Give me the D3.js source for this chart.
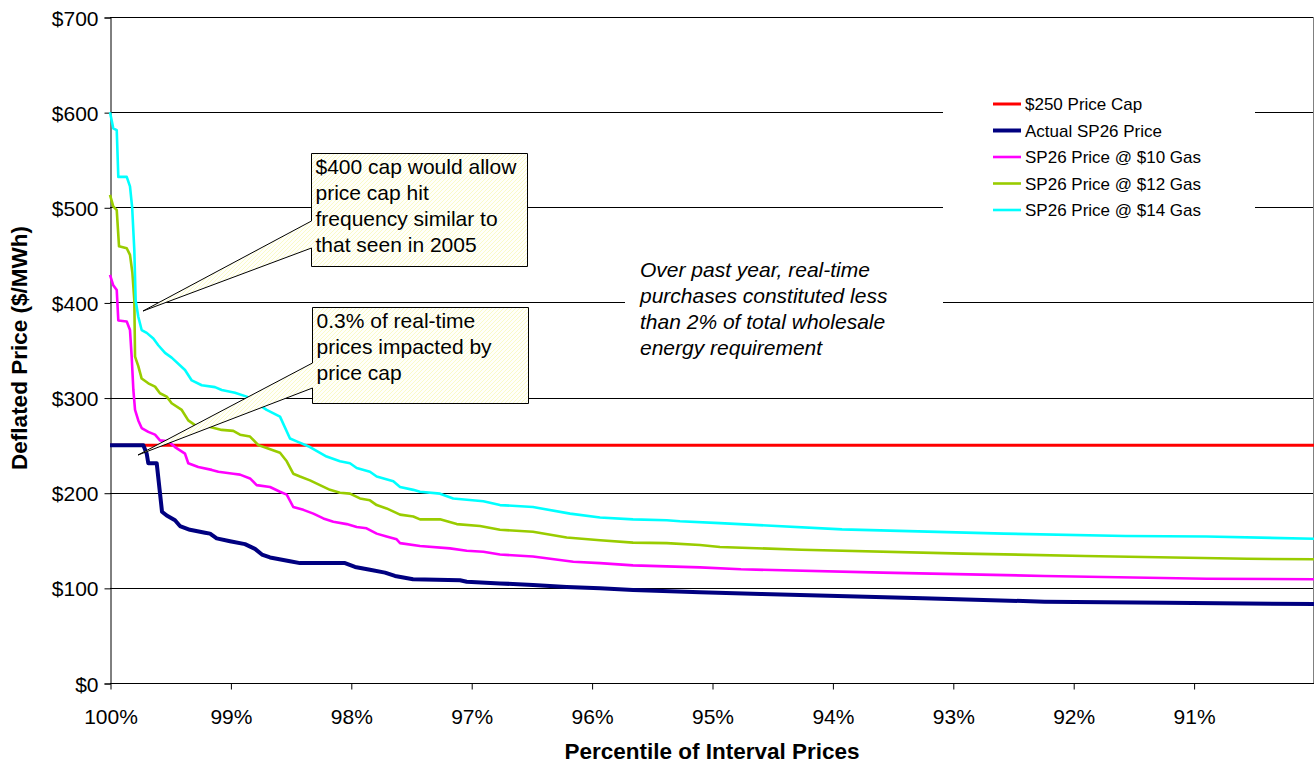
<!DOCTYPE html>
<html><head><meta charset="utf-8">
<script src="https://cdn.jsdelivr.net/npm/d3@7"></script>
<style>
html,body{margin:0;padding:0;background:#fff;}
svg{display:block;font-family:"Liberation Sans",Arial,sans-serif;}
</style></head><body>
<svg id="chart" width="1314" height="763"></svg>
<script>
// ---------- data ----------
const xTickValues = [100, 99, 98, 97, 96, 95, 94, 93, 92, 91];
const yTickValues = [0, 100, 200, 300, 400, 500, 600, 700];
const seriesNames = ["$250 Price Cap", "Actual SP26 Price", "SP26 Price @ $10 Gas", "SP26 Price @ $12 Gas", "SP26 Price @ $14 Gas"];
const seriesColors = ["#FF0000", "#000080", "#FF00FF", "#99CC00", "#00FFFF"];

// [percentile, price]
const priceCap = [[100, 250], [90, 250]];
const actualSP26 = [[100,250],[99.723,250],[99.695,241],[99.682,231],[99.612,231],[99.568,180],[99.529,176],[99.460,171],[99.419,165],[99.336,161],[99.211,158],[99.169,157],[99.114,152],[99.003,149],[98.879,146],[98.796,141],[98.738,135],[98.671,132],[98.505,128],[98.422,126],[98.048,126],[97.965,122],[97.841,119],[97.716,116],[97.633,112.5],[97.483,109],[97.093,108],[97.037,106.5],[96.761,104.7],[96.487,103],[96.207,101],[95.930,99.5],[95.656,97.7],[95.100,95.5],[94.593,93.5],[93.248,89],[92.238,85.5],[91.229,84.4],[90,83]];
const gas10 = [[100,429],[99.973,418],[99.944,413],[99.931,381],[99.861,380],[99.834,371],[99.820,343],[99.806,308],[99.792,287],[99.765,276],[99.737,268],[99.682,264],[99.626,261],[99.585,255],[99.516,254],[99.460,248],[99.377,241],[99.350,231],[99.267,227],[99.155,224],[99.100,222],[98.976,220],[98.920,219],[98.837,215],[98.782,208],[98.671,206],[98.588,201],[98.532,198],[98.478,185],[98.394,182],[98.311,178],[98.228,173],[98.145,169.5],[98.034,167],[97.951,164],[97.869,162.6],[97.785,157],[97.703,154],[97.619,151],[97.591,147],[97.425,144],[97.176,141.5],[97.037,139],[96.899,138],[96.761,135],[96.487,133],[96.152,127.5],[95.930,126],[95.656,123.6],[95.100,121.5],[94.759,119.5],[93.584,116],[92.238,112.5],[90.893,109.6],[90,109]];
const gas12 = [[100,513],[99.973,501],[99.944,497],[99.925,459],[99.861,457],[99.834,450],[99.814,431],[99.798,402],[99.792,343],[99.765,333],[99.737,320],[99.682,315],[99.626,311.5],[99.585,304.5],[99.529,301],[99.488,294],[99.404,287],[99.350,276],[99.294,271],[99.184,269.5],[99.072,266],[98.976,265],[98.920,261],[98.837,259],[98.768,250],[98.699,247],[98.588,242],[98.532,233],[98.478,220],[98.422,217],[98.339,213],[98.256,208],[98.173,203],[98.090,200],[98.007,199],[97.924,194],[97.841,192],[97.785,187],[97.703,183.5],[97.591,177],[97.481,175],[97.425,172],[97.259,172],[97.120,167],[96.927,165],[96.761,161],[96.487,159],[96.207,153],[95.930,150],[95.656,147.5],[95.376,147],[95.100,145],[94.934,143],[94.257,140],[92.911,136],[91.902,133.5],[90.557,130.6],[90,130]];
const gas14 = [[100,600],[99.973,583],[99.944,581],[99.931,532],[99.861,532],[99.834,522],[99.816,500],[99.798,455],[99.787,402],[99.765,385],[99.737,371],[99.695,368],[99.640,362],[99.599,355],[99.543,347],[99.488,342],[99.377,329],[99.321,318],[99.238,313],[99.128,311],[99.072,308],[98.962,305],[98.865,301],[98.699,287],[98.588,280],[98.505,257],[98.449,254],[98.339,248],[98.201,238],[98.090,233],[98.007,231],[97.951,226],[97.841,222],[97.785,217],[97.647,212],[97.591,206],[97.481,203],[97.425,201],[97.259,199],[97.149,194],[96.899,191],[96.761,187],[96.487,185],[96.179,178],[95.930,174],[95.656,172],[95.376,171],[95.266,170],[94.934,168],[93.920,161.5],[92.575,157],[91.566,154.5],[90.893,154],[90,151.6]];
const seriesData = [priceCap, actualSP26, gas10, gas12, gas14];
const seriesWidths = [3, 4, 2.6, 2.6, 2.6];

const callout1Lines = ["$400 cap would allow", "price cap hit", "frequency similar to", "that seen in 2005"];
const callout2Lines = ["0.3% of real-time", "prices impacted by", "price cap"];
const noteLines = ["Over past year, real-time", "purchases constituted less", "than 2% of total wholesale", "energy requirement"];

// ---------- chart ----------
const svg = d3.select("#chart");
const x = d3.scaleLinear().domain([100, 90]).range([110, 1314]);
const y = d3.scaleLinear().domain([0, 700]).range([683, 17]);

// pattern for callouts
const defs = svg.append("defs");
const pat = defs.append("pattern").attr("id", "hatch").attr("patternUnits", "userSpaceOnUse")
  .attr("width", 4).attr("height", 4);
pat.append("rect").attr("width", 4).attr("height", 4).attr("fill", "#FFFFFA");
pat.append("path").attr("d", "M0,4 L4,0 M-1,1 L1,-1 M3,5 L5,3").attr("stroke", "#FAFAC8").attr("stroke-width", 1);

// gridlines
svg.append("g").selectAll("line").data(yTickValues.filter(d => d > 0)).join("line")
  .attr("x1", 110).attr("x2", 1314)
  .attr("y1", d => Math.round(y(d)) + 0.5).attr("y2", d => Math.round(y(d)) + 0.5)
  .attr("stroke", "#000").attr("stroke-width", 1);

// right border
svg.append("line").attr("x1", 1313.5).attr("x2", 1313.5).attr("y1", y(700)).attr("y2", y(0))
  .attr("stroke", "#808080").attr("stroke-width", 1);

// legend background & note background (hide gridlines)
svg.append("rect").attr("x", 943).attr("y", 86).attr("width", 312).attr("height", 144).attr("fill", "#fff");
svg.append("rect").attr("x", 625).attr("y", 256).attr("width", 318).attr("height", 108).attr("fill", "#fff");

// axes
const yAxis = d3.axisLeft(y).tickValues(yTickValues).tickSize(6).tickPadding(6).tickFormat(d => "$" + d);
const gy = svg.append("g").attr("transform", "translate(110.5,0.5)").call(yAxis);
const xAxis = d3.axisBottom(x).tickValues(xTickValues).tickSize(6).tickPadding(20).tickFormat(d => d + "%");
const gx = svg.append("g").attr("transform", `translate(0.5,${Math.round(y(0)) + 0.5})`).call(xAxis);
[gx, gy].forEach(g => {
  g.select(".domain").attr("stroke", "#000");
  g.selectAll(".tick line").attr("stroke", "#000");
  g.selectAll(".tick text").attr("font-size", 21).attr("fill", "#000").attr("font-family", '"Liberation Sans",Arial,sans-serif');
});
gx.select(".domain").attr("d", `M${110 - 0.5},0H${1314}`);
gy.selectAll(".tick text").attr("dy", "0.36em");

// series
const line = d3.line().x(d => x(d[0])).y(d => y(d[1]));
svg.append("g").selectAll("path").data(seriesData).join("path")
  .attr("d", line).attr("fill", "none")
  .attr("stroke", (d, i) => seriesColors[i])
  .attr("stroke-width", (d, i) => seriesWidths[i])
  .attr("stroke-linejoin", "round");

// axis titles
svg.append("text").attr("x", 712).attr("y", 759).attr("text-anchor", "middle")
  .attr("font-weight", "bold").attr("font-size", 22.5).text("Percentile of Interval Prices");
svg.append("text").attr("transform", "translate(27,348) rotate(-90)").attr("text-anchor", "middle")
  .attr("font-weight", "bold").attr("font-size", 22.5).text("Deflated Price ($/MWh)");

// legend
const leg = svg.append("g");
seriesNames.forEach((n, i) => {
  const cy = 104 + i * 26.5;
  leg.append("line").attr("x1", 993).attr("x2", 1021).attr("y1", cy).attr("y2", cy)
    .attr("stroke", seriesColors[i]).attr("stroke-width", seriesWidths[i]);
  leg.append("text").attr("x", 1025).attr("y", cy + 6).attr("font-size", 17).text(n);
});

// note
const note = svg.append("text").attr("font-size", 21).attr("font-style", "italic");
noteLines.forEach((t, i) => note.append("tspan").attr("x", 640).attr("y", 277 + i * 26).text(t));

// callouts
function callout(box, tip, j1, j2, lines, baseline0) {
  const [x0, y0, x1, y1] = box;
  const d = `M${x0},${y0} H${x1} V${y1} H${x0} V${j2} L${tip[0]},${tip[1]} L${x0},${j1} Z`;
  svg.append("path").attr("d", d).attr("fill", "url(#hatch)").attr("stroke", "#000").attr("stroke-width", 1);
  const t = svg.append("text").attr("font-size", 21);
  lines.forEach((s, i) => t.append("tspan").attr("x", x0 + 4).attr("y", baseline0 + i * 26).text(s));
}
callout([311.5, 153.5, 527.5, 266.5], [143, 311], 221, 248, callout1Lines, 174);
callout([312.5, 307.5, 528.5, 403.5], [138, 455], 363, 388, callout2Lines, 328);
</script>
</body></html>
